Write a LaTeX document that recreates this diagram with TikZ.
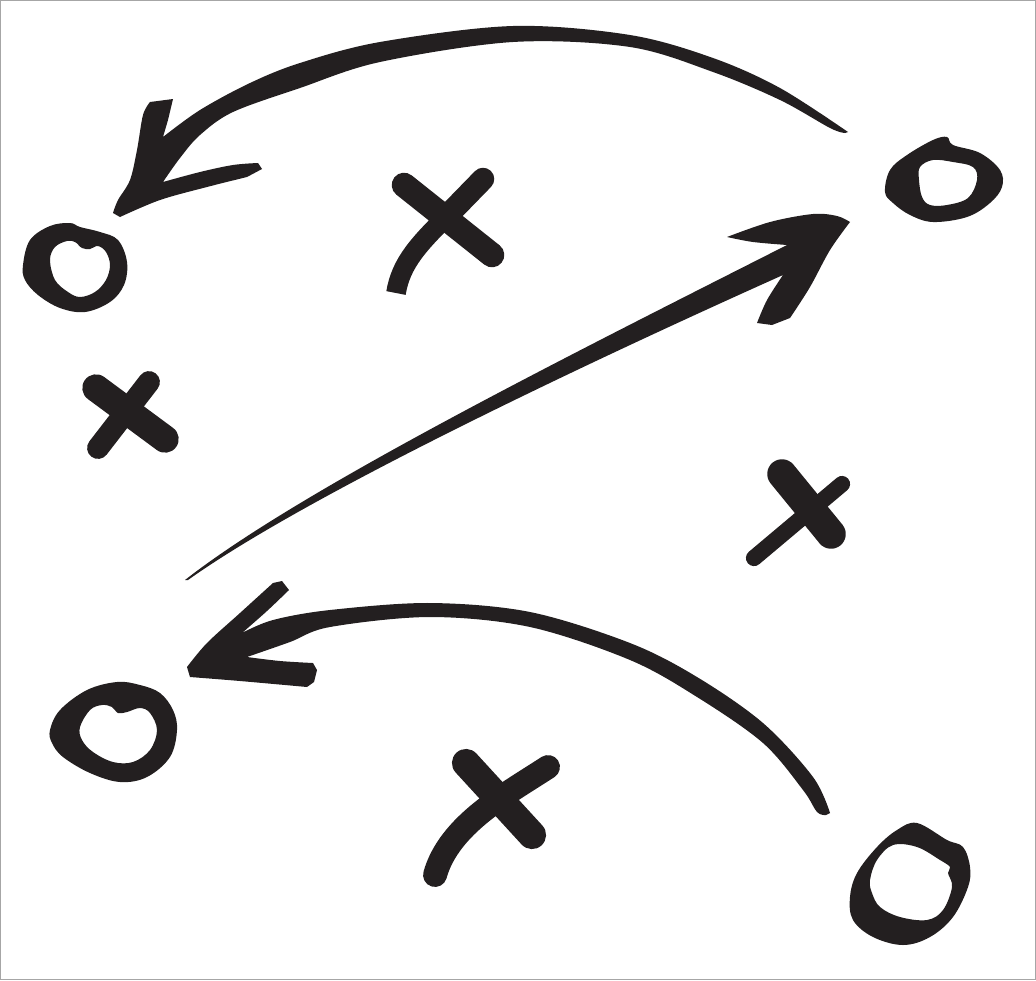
\documentclass[tikz,border=0pt]{standalone}
\usetikzlibrary{calc}
\definecolor{ink}{HTML}{231F20}
\begin{document}
\begin{tikzpicture}[x=0.025cm,y=-0.025cm,
  inkfill/.style={fill=ink},
  oring/.style={fill=ink,even odd rule},
  xstroke/.style={draw=ink,line cap=round,line join=round},
  sm/.style={smooth,tension=0.55}]
\useasboundingbox (0,0) rectangle (1036,980);
\draw[gray!70,line width=0.7pt] (0.6,0.6) rectangle (1035.4,979.4);

% ---------- Arrow 1 (top, pointing left) ----------
\fill[inkfill] (113,213)
 -- plot[sm] coordinates {(113,213) (118,200) (130,180) (137,150) (143,115) (150,102)}
 -- (173,99) -- (168,120) -- (163,137)
 -- plot[sm] coordinates {(163,137) (200,110) (250,83) (300,63) (380,42) (513,26) (630,35) (713,58) (780,88) (848,132)}
 -- plot[sm] coordinates {(845,133) (830,128) (780,100) (713,72) (630,47) (513,42) (380,62) (300,88) (233,112) (200,135) (180,158) (163,182)}
 -- plot[sm] coordinates {(163,182) (200,172) (233,165) (258,163)}
 -- (262,169) -- (247,177)
 -- plot[sm] coordinates {(247,177) (207,187) (160,200) (120,217)}
 -- cycle;

% ---------- Arrow 2 (middle, pointing up-right) ----------
\fill[inkfill] (185,580) .. controls (300,490) and (560,360) .. (787,245)
 -- plot[sm] coordinates {(787,245) (753,242) (727,237)}
 -- plot[sm] coordinates {(727,237) (770,222) (813,214) (837,216) (850,222)}
 -- plot[sm] coordinates {(850,222) (830,250) (810,287) (790,318)}
 -- (772,325) -- (757,323)
 -- plot[sm] coordinates {(757,323) (767,300) (783,275)}
 -- (783,275) .. controls (560,375) and (300,500) .. (188,580)
 -- cycle;

% ---------- Arrow 3 (bottom, pointing left) ----------
\fill[inkfill] (187,667)
 -- plot[sm] coordinates {(187,667) (207,643) (240,613) (273,583)}
 -- (282,581) -- (289,590)
 -- plot[sm] coordinates {(289,590) (267,611) (242,633)}
 -- plot[sm] coordinates {(242,633) (273,620) (330,610) (430,603) (530,612) (630,643) (697,677) (763,723) (813,777) (830,813)}
 -- plot[sm] coordinates {(826,815) (817,812) (803,790) (763,743) (697,697) (630,660) (530,627) (430,617) (330,627) (290,642) (247,657)}
 -- plot[sm] coordinates {(247,657) (280,661) (313,663)}
 -- (317,670) -- (314,682) -- (307,687)
 -- plot[sm] coordinates {(307,687) (240,681) (190,677)}
 -- cycle;

% ---------- O : top left ----------
\fill[oring]
 plot[smooth cycle,tension=0.6] coordinates {(23,265) (30,240) (50,226) (70,223) (80,227) (100,232) (118,240) (127,262) (124,285) (110,302) (85,312) (60,308) (38,295) (25,280)}
 plot[smooth cycle,tension=0.6] coordinates {(50,260) (55,247) (67,241) (75,242) (82,248) (90,249) (98,246) (106,252) (110,265) (106,280) (95,292) (80,297) (68,292) (55,280)};

% ---------- O : top right ----------
\fill[oring]
 plot[smooth cycle,tension=0.6] coordinates {(885,192) (890,170) (907,155) (933,140) (947,137) (953,145) (980,153) (1000,170) (1002,187) (990,203) (967,217) (933,222) (910,215) (893,203)}
 plot[smooth cycle,tension=0.6] coordinates {(919,180) (920,167) (933,160) (953,162) (973,167) (977,180) (968,198) (947,205) (930,205) (922,197)};

% ---------- O : bottom left ----------
\fill[oring]
 plot[smooth cycle,tension=0.6] coordinates {(50,730) (60,710) (87,690) (117,682) (140,685) (160,693) (173,710) (177,730) (170,757) (147,777) (120,782) (90,773) (63,757) (52,743)}
 plot[smooth cycle,tension=0.6] coordinates {(80,727) (90,710) (102,705) (112,707) (118,713) (127,712) (140,708) (150,713) (157,730) (150,750) (133,762) (113,762) (93,752) (82,740)};

% ---------- O : bottom right ----------
\fill[oring]
 plot[smooth cycle,tension=0.6] coordinates {(917,823) (947,840) (963,847) (970,867) (968,887) (953,917) (930,937) (903,945) (873,937) (853,920) (850,897) (857,873) (877,847) (897,830)}
 plot[smooth cycle,tension=0.6] coordinates {(870,880) (877,860) (893,845) (917,847) (940,860) (950,867) (948,873) (952,887) (943,910) (927,920) (900,917) (880,907) (872,893)};

% ---------- X : top middle ----------
\draw[xstroke,line width=17.5pt] (404,185) -- (492,255);
\draw[xstroke,line width=16pt] (483,179) -- (447,216);
\draw[xstroke,line width=14pt,line cap=butt] (450,213) .. controls (420,243) and (401,262) .. (396,293);

% ---------- X : left ----------
\draw[xstroke,line width=19.5pt] (96,388) -- (165,439);
\draw[xstroke,line width=15.5pt] (149,382) -- (98,448);

% ---------- X : right middle ----------
\draw[xstroke,line width=21pt] (782,474) -- (831,534);
\draw[xstroke,line width=11.5pt] (842,484) -- (754,558);

% ---------- X : bottom ----------
\draw[xstroke,line width=20pt] (466,763) -- (532,835);
\draw[xstroke,line width=17pt] (548,767) .. controls (505,795) and (449,825) .. (435,875);
\end{tikzpicture}
\end{document}
